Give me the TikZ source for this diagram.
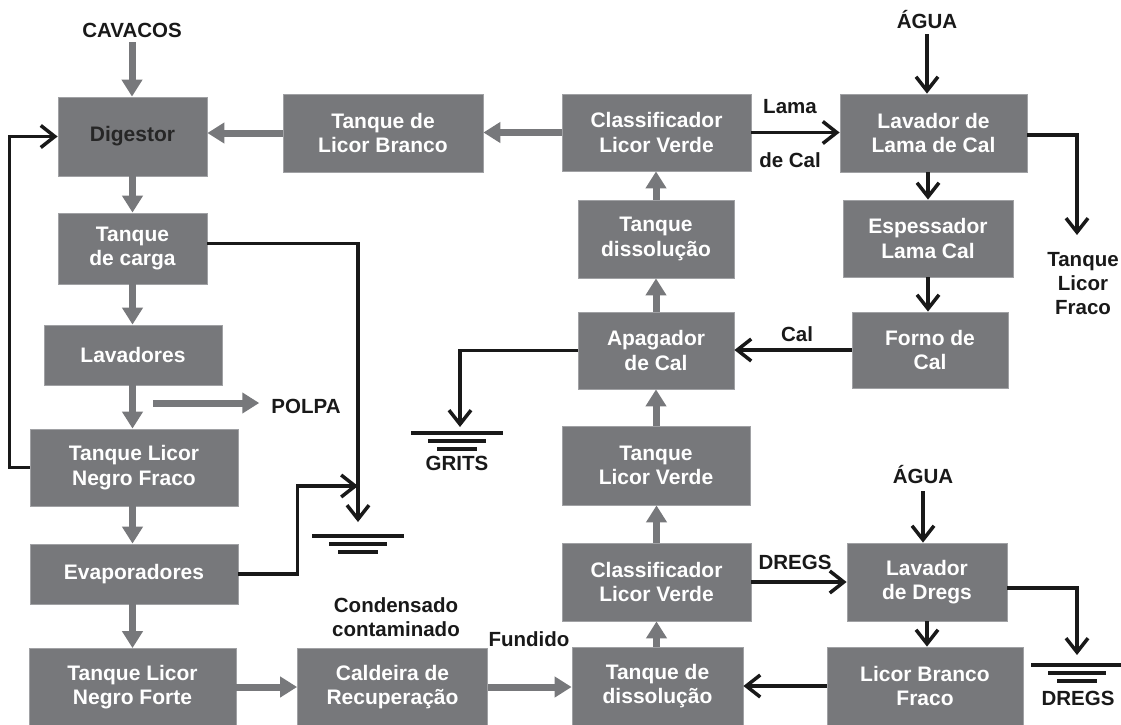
\documentclass[tikz,border=0pt]{standalone}
\usepackage{fontspec}
\setmainfont{Liberation Sans}
\usetikzlibrary{arrows.meta,calc}
\definecolor{caixa}{RGB}{119,120,123}
\definecolor{borda}{RGB}{160,161,164}
\tikzset{
	bloco/.style={fill=caixa,draw=borda,line width=0.8pt,text=white,align=center,
		inner sep=0pt,font=\fontsize{21}{24.5}\selectfont\bfseries},
	rotulo/.style={align=center,inner sep=0pt,text=black!90,
		font=\fontsize{20.5}{24}\selectfont\bfseries},
	fluxo/.style={draw=caixa,line width=7pt,-{Triangle[length=17pt,width=20pt]}},
	linha/.style={draw=black!90,line width=3.5pt,-{Straight Barb[length=14pt,width=22pt]}},
	terra/.style={draw=black!90,line width=3.5pt}
}

\begin{document}
\begin{tikzpicture}[x=1pt,y=-1pt]
	\useasboundingbox (0,0) rectangle (1121,725);
	% coluna da esquerda
	\node[bloco,minimum width=149pt,minimum height=79pt,text=black!85] (dig) at (132.5,136.5) {Digestor};
	\node[bloco,minimum width=149pt,minimum height=71pt] (tcarga) at (132.5,248.5) {Tanque\\de carga};
	\node[bloco,minimum width=178pt,minimum height=60pt] (lavad) at (133,355) {Lavadores};
	\node[bloco,minimum width=208pt,minimum height=77pt] (tlnf) at (134,467.5) {Tanque Licor\\Negro Fraco};
	\node[bloco,minimum width=208pt,minimum height=60pt] (evap) at (134,574) {Evaporadores};
	\node[bloco,minimum width=207pt,minimum height=77pt] (tlnforte) at (132.5,687) {Tanque Licor\\Negro Forte};
	\node[bloco,minimum width=190pt,minimum height=77pt] (cald) at (392.5,687) {Caldeira de\\Recupera\c{c}\~ao};
	% coluna do meio
	\node[bloco,minimum width=200pt,minimum height=78pt] (tlb) at (383,133) {Tanque de\\Licor Branco};
	\node[bloco,minimum width=189pt,minimum height=77pt] (clsup) at (656.5,132.5) {Classificador\\Licor Verde};
	\node[bloco,minimum width=156pt,minimum height=78pt] (tdiss) at (656,239) {Tanque\\dissolu\c{c}\~ao};
	\node[bloco,minimum width=156pt,minimum height=77pt] (apag) at (656,350.5) {Apagador\\de Cal};
	\node[bloco,minimum width=188pt,minimum height=79pt] (tlv) at (656,465.5) {Tanque\\Licor Verde};
	\node[bloco,minimum width=189pt,minimum height=78pt] (clsdn) at (656.5,582) {Classificador\\Licor Verde};
	\node[bloco,minimum width=171pt,minimum height=78pt] (tdissdn) at (657.5,686) {Tanque de\\dissolu\c{c}\~ao};
	% coluna da direita
	\node[bloco,minimum width=187pt,minimum height=78pt] (lavlama) at (933.5,133) {Lavador de\\Lama de Cal};
	\node[bloco,minimum width=170pt,minimum height=77pt] (esp) at (928,238.5) {Espessador\\Lama Cal};
	\node[bloco,minimum width=156pt,minimum height=76pt] (forno) at (930,350) {Forno de\\Cal};
	\node[bloco,minimum width=160pt,minimum height=78pt] (lavdregs) at (927,582) {Lavador\\de Dregs};
	\node[bloco,minimum width=196pt,minimum height=78pt] (lbf) at (925,686) {Licor Branco\\Fraco};
	% rotulos
	\node[rotulo] (cavacos) at (132,30) {CAVACOS};
	\node[rotulo] (agua1) at (927,20) {\'AGUA};
	\node[rotulo] (agua2) at (923,475) {\'AGUA};
	\node[rotulo] (polpa) at (306,406) {POLPA};
	\node[rotulo] (grits) at (457,463) {GRITS};
	\node[rotulo] (lama) at (790,107) {Lama};
	\node[rotulo] (decal) at (790,160) {de Cal};
	\node[rotulo] (cal) at (797,334) {Cal};
	\node[rotulo] (dregs) at (795,562) {DREGS};
	\node[rotulo] (dregs2) at (1078,698) {DREGS};
	\node[rotulo] (tlf) at (1083,284) {Tanque\\Licor\\Fraco};
	\node[rotulo] (condens) at (396,617) {Condensado\\contaminado};
	\node[rotulo] (fundido) at (529,639) {Fundido};
	\coordinate (polpaini) at (153,403);
	\coordinate (tlfin) at (1077,235);
	\coordinate (g1in) at (358,522);
	\coordinate (g1lado) at (358,486);
	\coordinate (gritsin) at (460,427);
	\coordinate (g3in) at (1077,655);
	% setas cinzas
	\draw[fluxo,shorten <=5pt] (cavacos.south) -- (cavacos.south |- dig.north);
	\draw[fluxo] (dig.south) -- (dig.south |- tcarga.north);
	\draw[fluxo] (tcarga.south) -- (tcarga.south |- lavad.north);
	\draw[fluxo] (tcarga.south |- lavad.south) -- (tcarga.south |- tlnf.north);
	\draw[fluxo] (tcarga.south |- tlnf.south) -- (tcarga.south |- evap.north);
	\draw[fluxo] (tcarga.south |- evap.south) -- (tcarga.south |- tlnforte.north);
	\draw[fluxo,shorten >=12pt] (polpaini) -- (polpaini -| polpa.west);
	\draw[fluxo] (tlb.west) -- (tlb.west -| dig.east);
	\draw[fluxo] (clsup.west) -- (clsup.west -| tlb.east);
	\draw[fluxo] (tlnforte.east) -- (tlnforte.east -| cald.west);
	\draw[fluxo] (cald.east) -- (cald.east -| tdissdn.west);
	\draw[fluxo] (clsdn.south |- tdissdn.north) -- (clsdn.south);
	\draw[fluxo] (clsdn.north) -- (clsdn.north |- tlv.south);
	\draw[fluxo] (tlv.north) -- (tlv.north |- apag.south);
	\draw[fluxo] (apag.north) -- (apag.north |- tdiss.south);
	\draw[fluxo] (tdiss.north) -- (tdiss.north |- clsup.south);
	% setas pretas
	\draw[linha] (tlnf.west) -- ++(-20,0) |- (dig.west);
	\draw[linha] ([yshift=5pt]tcarga.east) -| (g1in);
	\draw[linha] (evap.east) -- ++(59,0) |- (g1lado);
	\draw[linha] (apag.west) -| (gritsin);
	\draw[linha] (clsup.east) -- (clsup.east -| lavlama.west);
	\draw[linha,shorten <=5pt] (agua1.south) -- (agua1.south |- lavlama.north);
	\draw[linha] (esp.north |- lavlama.south) -- (esp.north);
	\draw[linha] (esp.south) -- (esp.south |- forno.north);
	\draw[linha] (forno.west) -- (forno.west -| apag.east);
	\draw[linha] ([yshift=-2pt]lavlama.east) -| (tlfin);
	\draw[linha] (clsdn.east) -- (clsdn.east -| lavdregs.west);
	\draw[linha,shorten <=7pt] (agua2.south) -- (agua2.south |- lavdregs.north);
	\draw[linha] (lavdregs.south) -- (lavdregs.south |- lbf.north);
	\draw[linha] (lbf.west) -- (lbf.west -| tdissdn.east);
	\draw[linha] ([yshift=-6pt]lavdregs.east) -| (g3in);
	% aterramentos
	\foreach \cx/\cy in {358/536, 457/433, 1077/665}{
		\draw[terra] (\cx-46,\cy) -- (\cx+46,\cy);
		\draw[terra] (\cx-29,\cy+8) -- (\cx+29,\cy+8);
		\draw[terra] (\cx-20,\cy+16) -- (\cx+20,\cy+16);
	}
\end{tikzpicture}
\end{document}
